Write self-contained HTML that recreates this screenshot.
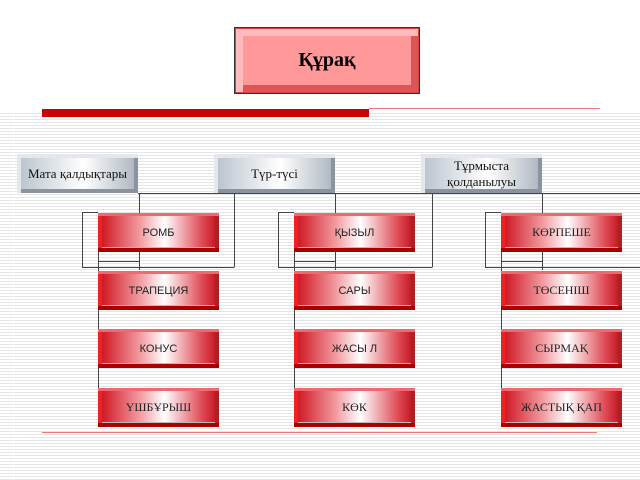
<!DOCTYPE html>
<html><head><meta charset="utf-8"><style>
body{margin:0;width:640px;height:480px;overflow:hidden;background:#fff;position:relative;font-family:"Liberation Sans",sans-serif}
.stripes{position:absolute;left:0;top:113px;width:640px;height:367px;background:repeating-linear-gradient(to bottom,#e6e6e6 0,#e6e6e6 1px,#fff 1px,#fff 3px)}
.vl{position:absolute;top:113px;height:367px;width:1px;background:#fff}
.box{position:absolute;box-sizing:border-box;display:flex;align-items:center;justify-content:center;text-align:center}
.title{left:234px;top:27px;width:186px;height:67px;background:#f99;border:1px solid #333;font:bold 20px "Liberation Serif",serif;box-shadow:inset 0 0 0 1px #c44, inset 8px 8px 0 #fbb, inset -8px -8px 0 #d55}
.hdr{width:121px;height:39px;background:linear-gradient(to right,#b8c2cc,#fff 55%,#aab4be);box-shadow:inset 4px 4px 0 #e4e8ec, inset -4px -4px 0 #8a949e;font:13px "Liberation Serif",serif;line-height:16px;color:#111}
.red{width:121px;height:39px;background:linear-gradient(to right,#cc0c18,#f29ca2 35%,#fff 55%,#e0505a 85%,#c00c18);box-shadow:inset 0 3px 0 #ef6a70, inset 0 -4px 0 #a00, inset -4px 0 0 #a22, inset 4px 0 0 #e22, inset 0 -5px 0 #bbb;font-size:11px;color:#222}
.sr{font-family:"Liberation Serif",serif;font-size:12px}
</style></head><body>
<div class="stripes"></div>
<div class="vl" style="left:13px"></div>
<div style="position:absolute;left:42px;top:109px;width:327px;height:8px;background:#c00"></div>
<div style="position:absolute;left:369px;top:108px;width:231px;height:1px;background:#e77"></div>
<div style="position:absolute;left:42px;top:432px;width:555px;height:1px;background:#e77"></div>
<div class="box title">Құрақ</div>
<svg style="position:absolute;left:0;top:0" width="640" height="480">
<g stroke="#444" stroke-width="1" fill="none">
<line x1="138" y1="193.5" x2="640" y2="193.5"/>
<line x1="234.5" y1="193" x2="234.5" y2="267"/>
<line x1="432.5" y1="193" x2="432.5" y2="267"/>
<path d="M98 212.5H82.5V267.5H234.5"/><path d="M294 212.5H278.5V267.5H432.5"/><path d="M501 212.5H485.5V267.5H640"/>
<line x1="139.5" y1="193" x2="139.5" y2="270"/><line x1="335.5" y1="193" x2="335.5" y2="270"/><line x1="542.5" y1="193" x2="542.5" y2="270"/>
<line x1="98.5" y1="252" x2="98.5" y2="407"/><line x1="294.5" y1="252" x2="294.5" y2="407"/><line x1="501.5" y1="252" x2="501.5" y2="407"/>
<line x1="98" y1="261.5" x2="139" y2="261.5"/><line x1="294" y1="261.5" x2="335" y2="261.5"/><line x1="501" y1="261.5" x2="542" y2="261.5"/>
</g></svg>
<div class="box hdr" style="left:17px;top:154px">Мата қалдықтары</div>
<div class="box hdr" style="left:214px;top:154px">Түр-түсі</div>
<div class="box hdr" style="left:421px;top:154px">Тұрмыста<br>қолданылуы</div>
<div class="box red" style="left:98px;top:213px">РОМБ</div>
<div class="box red" style="left:98px;top:271px">ТРАПЕЦИЯ</div>
<div class="box red" style="left:98px;top:329px">КОНУС</div>
<div class="box red sr" style="left:98px;top:388px">ҮШБҰРЫШ</div>
<div class="box red" style="left:294px;top:213px">ҚЫЗЫЛ</div>
<div class="box red" style="left:294px;top:271px">САРЫ</div>
<div class="box red" style="left:294px;top:329px">ЖАСЫ Л</div>
<div class="box red sr" style="left:294px;top:388px">КӨК</div>
<div class="box red sr" style="left:501px;top:213px">КӨРПЕШЕ</div>
<div class="box red sr" style="left:501px;top:271px">ТӨСЕНІШ</div>
<div class="box red sr" style="left:501px;top:329px">СЫРМАҚ</div>
<div class="box red sr" style="left:501px;top:388px">ЖАСТЫҚ ҚАП</div>
</body></html>
